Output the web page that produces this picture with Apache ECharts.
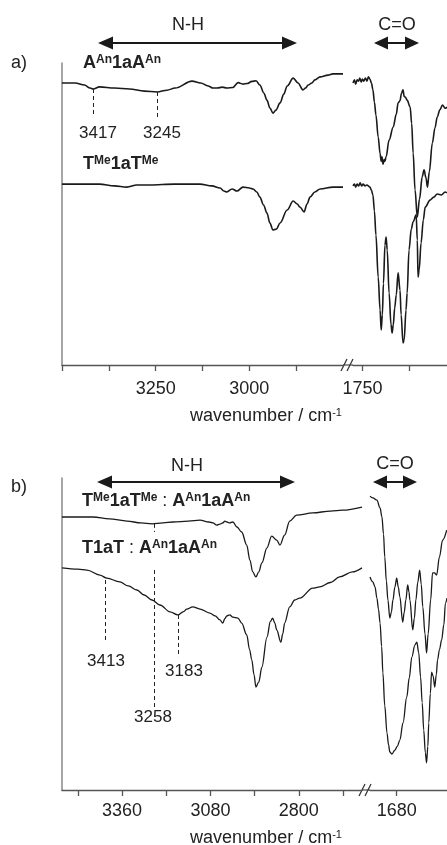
<!DOCTYPE html>
<html>
<head>
<meta charset="utf-8">
<style>
html, body { margin: 0; padding: 0; background: #fff; }
#ir { width: 447px; height: 845px; }
</style>
<script src="https://cdn.jsdelivr.net/npm/echarts@6/dist/echarts.min.js"></script>
</head>
<body>
<div id="ir"></div>
<script>
// IR spectra, N-H and C=O regions, broken wavenumber axis
// points are [wavenumber / cm-1, transmittance %]

// ---- panel a ----
const aAnNH = [[3500,93.4],[3465,93.4],[3440,92.7],[3425,91.7],[3417,91.4],[3400,92.1],[3360,91.7],[3320,91.4],[3280,90.7],[3246,90.4],[3220,91.0],[3198,91.7],[3153,94.0],[3130,93.4],[3110,92.4],[3097,91.7],[3086,91.7],[3072,92.0],[3060,91.7],[3044,91.9],[3030,93.5],[3017,93.0],[3006,93.2],[2993,93.9],[2982,94.1],[2972,92.7],[2961,90.0],[2953,87.7],[2945,85.1],[2937,83.4],[2929,84.4],[2918,86.8],[2908,89.7],[2899,92.4],[2883,95.0],[2870,93.4],[2857,91.1],[2850,91.7],[2843,92.7],[2833,93.4],[2825,94.4],[2811,95.4],[2790,96.0],[2777,96.4],[2750,96.4]];
const aAnCO = [[1775,93.4],[1771,94.4],[1768,93.0],[1764,94.4],[1760,94.0],[1757,95.0],[1753,93.7],[1750,94.7],[1746,94.0],[1742,95.0],[1738,94.0],[1734,95.4],[1730,94.7],[1726,93.4],[1722,91.1],[1718,87.0],[1714,82.8],[1708,75.5],[1703,70.0],[1700,67.5],[1698,68.9],[1695,66.5],[1692,68.0],[1690,67.5],[1687,68.9],[1679,74.5],[1668,78.8],[1660,83.0],[1655,86.8],[1650,87.5],[1646,90.0],[1642,91.1],[1639,89.0],[1636,88.7],[1631,87.7],[1623,85.4],[1619,80.0],[1615,70.2],[1610,58.0],[1604,49.0],[1598,55.0],[1591,62.3],[1586,64.6],[1581,62.0],[1577,58.9],[1572,64.0],[1564,73.5],[1557,78.5],[1551,82.1],[1544,84.5],[1537,86.1],[1530,85.0],[1525,85.4]];
const tMeNH = [[3500,59.9],[3450,59.9],[3400,59.9],[3360,59.3],[3327,58.9],[3300,59.6],[3265,59.6],[3200,59.9],[3132,59.9],[3100,59.3],[3078,58.6],[3068,57.6],[3060,57.3],[3046,58.3],[3033,57.6],[3017,58.9],[3000,58.6],[2990,58.3],[2980,57.3],[2972,55.6],[2962,53.0],[2953,50.3],[2945,47.0],[2937,44.7],[2928,45.0],[2918,47.0],[2899,51.3],[2883,54.3],[2872,53.3],[2865,52.3],[2854,50.7],[2846,53.3],[2838,55.6],[2825,57.3],[2811,58.3],[2777,58.9],[2750,58.9]];
const tMeCO = [[1775,59.3],[1771,59.9],[1768,58.9],[1764,59.9],[1760,59.3],[1756,60.3],[1752,59.3],[1748,59.9],[1743,59.3],[1738,59.6],[1730,58.9],[1726,57.9],[1722,56.3],[1718,51.0],[1714,43.0],[1708,29.1],[1703,18.2],[1700,11.6],[1697,16.6],[1694,27.0],[1690,39.7],[1687,42.4],[1684,38.1],[1679,23.8],[1674,13.5],[1671,10.6],[1668,13.2],[1664,19.0],[1660,23.2],[1655,30.5],[1650,24.8],[1647,16.6],[1642,7.3],[1639,8.3],[1634,18.2],[1631,23.8],[1626,38.1],[1620,45.0],[1615,47.4],[1607,49.7],[1604,41.4],[1602,29.1],[1599,31.5],[1594,40.4],[1588,48.0],[1583,52.3],[1570,54.6],[1560,55.6],[1551,56.6],[1540,56.3],[1530,57.3],[1525,57.0]];

// ---- panel b ----
const mixMeNH = [[3550,87.5],[3500,87.5],[3452,87.5],[3400,86.9],[3344,86.2],[3300,85.6],[3265,85.3],[3230,85.6],[3199,85.9],[3150,86.2],[3113,86.5],[3085,85.9],[3072,85.6],[3060,84.9],[3050,85.2],[3041,85.6],[3034,86.2],[3028,85.9],[3019,85.6],[3009,85.9],[2996,84.3],[2981,82.7],[2965,78.5],[2955,73.7],[2946,69.9],[2936,68.3],[2927,69.9],[2917,72.8],[2901,77.6],[2886,81.4],[2870,80.1],[2860,78.5],[2845,81.7],[2829,86.2],[2807,88.1],[2756,88.8],[2700,89.4],[2661,89.7],[2600,90.7]];
const mixMeCO = [[1765,94.2],[1756,93.6],[1743,92.9],[1733,90.4],[1727,87.5],[1722,82.0],[1718,74.7],[1713,67.0],[1708,60.9],[1702,55.1],[1697,57.0],[1692,60.9],[1686,65.0],[1680,67.9],[1675,65.0],[1670,61.9],[1661,53.8],[1656,57.0],[1651,60.9],[1645,65.7],[1641,63.5],[1638,60.9],[1629,51.3],[1624,55.0],[1619,60.9],[1613,66.5],[1607,70.5],[1602,66.0],[1597,58.7],[1590,50.0],[1585,43.9],[1580,50.0],[1572,60.9],[1566,69.6],[1560,69.6],[1553,68.9],[1544,74.7],[1534,80.1],[1521,83.3]];
const mixTNH = [[3550,71.2],[3500,70.8],[3471,70.5],[3430,68.9],[3408,67.9],[3367,66.7],[3340,65.4],[3313,64.1],[3290,62.5],[3265,60.9],[3240,59.3],[3208,57.1],[3183,56.1],[3165,57.2],[3155,58.0],[3136,58.7],[3113,58.0],[3082,56.7],[3065,55.8],[3050,54.5],[3041,53.5],[3034,55.0],[3028,55.8],[3019,56.1],[3009,55.4],[2993,55.1],[2981,53.5],[2965,49.7],[2956,45.0],[2949,41.7],[2942,37.0],[2936,33.0],[2927,34.6],[2917,39.4],[2901,49.0],[2890,54.0],[2883,55.1],[2876,53.5],[2870,51.3],[2857,47.4],[2851,50.0],[2845,53.5],[2829,58.7],[2813,60.9],[2797,61.5],[2756,64.7],[2734,65.1],[2700,66.5],[2671,68.3],[2630,69.9],[2600,71.2]];
const mixTCO = [[1765,68.3],[1756,66.7],[1749,65.1],[1743,61.5],[1738,58.0],[1733,53.5],[1728,46.0],[1724,37.5],[1718,27.0],[1711,18.3],[1706,14.5],[1702,12.2],[1695,11.5],[1686,12.8],[1678,14.0],[1670,16.0],[1660,21.5],[1648,29.8],[1640,36.0],[1632,42.6],[1622,46.5],[1616,47.4],[1610,44.0],[1604,36.2],[1599,28.0],[1594,19.2],[1589,12.0],[1585,8.7],[1581,14.0],[1578,21.5],[1573,31.0],[1569,37.8],[1564,36.5],[1559,33.0],[1554,37.0],[1550,41.7],[1544,45.0],[1537,48.1],[1530,53.0],[1525,59.9],[1520,61.5]];

// axis ticks / labels
const ticksA_NH = [3500, 3375, 3250, 3125, 3000, 2875];
const labelsA_NH = [3250, 3000];
const ticksA_CO = [1750, 1625];
const labelsA_CO = [1750];
const ticksB_NH = [3500, 3360, 3220, 3080, 2940, 2800, 2660];
const labelsB_NH = [3360, 3080, 2800];
const ticksB_CO = [1680];
const labelsB_CO = [1680];

// dashed peak markers: [wavenumber, T start, T end]
const markA = [[3417, 91.4, 82.1], [3245, 90.4, 82.1]];
const markB = [[3413, 67.3, 47.1], [3258, 85.3, 82.7], [3258, 70.5, 26.6], [3183, 56.1, 42.6]];

const FONT = '"Liberation Sans", Arial, Helvetica, sans-serif';
const INK = '#1a1a1a';

var chart = echarts.init(document.getElementById('ir'), null, { renderer: 'canvas' });

function xAx(grid, min, max, ticks, labels, margin) {
    return {
        type: 'value', gridIndex: grid, min: min, max: max, inverse: true,
        axisLine: { show: true, onZero: false, lineStyle: { color: '#555', width: 1.3 } },
        axisTick: { show: true, customValues: ticks, length: 6, lineStyle: { color: '#555', width: 1.3 } },
        axisLabel: {
            customValues: labels, margin: margin, fontSize: 18, color: '#222', fontFamily: FONT,
            formatter: function (v) { return String(v); }
        },
        splitLine: { show: false }
    };
}

function yAx(grid, showLine) {
    return {
        type: 'value', gridIndex: grid, min: 0, max: 100,
        axisLine: { show: showLine, onZero: false, lineStyle: { color: '#888', width: 1.5 } },
        axisTick: { show: false }, axisLabel: { show: false }, splitLine: { show: false }
    };
}

function trace(name, data, idx, w, marks) {
    const s = {
        name: name, type: 'line', xAxisIndex: idx, yAxisIndex: idx, data: data,
        showSymbol: false, symbol: 'none', smooth: 0.35, smoothMonotone: 'x',
        lineStyle: { color: INK, width: w }, silent: true
    };
    if (marks) {
        s.markLine = {
            silent: true, symbol: ['none', 'none'], label: { show: false },
            lineStyle: { type: [4, 3], color: '#222', width: 1 },
            data: marks.map(m => [{ coord: [m[0], m[1]] }, { coord: [m[0], m[2]] }])
        };
    }
    return s;
}

// text helpers
function txt(x, y, text, size, align) {
    return {
        type: 'text', x: x, y: y,
        style: {
            text: text, fill: '#222', fontSize: size, fontFamily: FONT,
            align: align || 'center', verticalAlign: 'middle',
            textAlign: align || 'center', textVerticalAlign: 'middle'
        }
    };
}
const supRich = {
    b: { fontSize: 18, fontWeight: 'bold', fontFamily: FONT, fill: '#222', lineHeight: 18, verticalAlign: 'bottom' },
    r: { fontSize: 18, fontFamily: FONT, fill: '#222', lineHeight: 18, verticalAlign: 'bottom' },
    s: { fontSize: 12, fontWeight: 'bold', fontFamily: FONT, fill: '#222', lineHeight: 12, verticalAlign: 'top' },
    n: { fontSize: 18, fontFamily: FONT, fill: '#222', lineHeight: 18, verticalAlign: 'bottom' },
    u: { fontSize: 11, fontFamily: FONT, fill: '#222', lineHeight: 11, verticalAlign: 'top' }
};
function rich(x, y, text, align) {
    return {
        type: 'text', x: x, y: y,
        style: {
            text: text, rich: supRich, align: align || 'left', verticalAlign: 'middle',
            textAlign: align || 'left', textVerticalAlign: 'middle'
        }
    };
}
function arrow(x1, x2, y, head) {
    return [
        { type: 'line', shape: { x1: x1 + head - 2, y1: y, x2: x2 - head + 2, y2: y }, style: { stroke: INK, lineWidth: 2 } },
        { type: 'polygon', shape: { points: [[x1, y], [x1 + head, y - 6.5], [x1 + head, y + 6.5]] }, style: { fill: INK } },
        { type: 'polygon', shape: { points: [[x2, y], [x2 - head, y - 6.5], [x2 - head, y + 6.5]] }, style: { fill: INK } }
    ];
}
function axisBreak(xa, xb, y) {
    const m = (xa + xb) / 2;
    return [
        { type: 'line', shape: { x1: xa, y1: y, x2: xb, y2: y }, style: { stroke: '#555', lineWidth: 1.3 } },
        { type: 'line', shape: { x1: m - 7, y1: y + 6, x2: m - 1, y2: y - 6 }, style: { stroke: '#333', lineWidth: 1.2 } },
        { type: 'line', shape: { x1: m - 1, y1: y + 6, x2: m + 5, y2: y - 6 }, style: { stroke: '#333', lineWidth: 1.2 } }
    ];
}

const graphics = [].concat(
    // panel a
    [txt(19, 63, 'a)', 18), txt(188, 25, 'N-H', 18), txt(397, 25, 'C=O', 18)],
    arrow(98, 297, 43, 15), arrow(374, 419, 43, 14),
    [rich(83, 63, '{b|A}{s|An}{b|1aA}{s|An}'), rich(83, 164, '{b|T}{s|Me}{b|1aT}{s|Me}')],
    [txt(98, 133, '3417', 17), txt(162, 133, '3245', 17)],
    axisBreak(343, 353, 365),
    [rich(266, 416, '{n|wavenumber / cm}{u|-1}', 'center')],
    // panel b
    [txt(19, 487, 'b)', 18), txt(187, 466, 'N-H', 18), txt(395, 464, 'C=O', 18)],
    arrow(97, 295, 482, 15), arrow(373, 417, 482, 14),
    [rich(82, 501, '{b|T}{s|Me}{b|1aT}{s|Me}{r| : }{b|A}{s|An}{b|1aA}{s|An}'),
     rich(82, 548, '{b|T1aT}{r| : }{b|A}{s|An}{b|1aA}{s|An}')],
    [txt(106, 661, '3413', 17), txt(153, 717, '3258', 17), txt(184, 671, '3183', 17)],
    axisBreak(362, 370, 790),
    [rich(266, 838, '{n|wavenumber / cm}{u|-1}', 'center')]
);

const option = {
    animation: false,
    grid: [
        { left: 62, top: 63, width: 281, height: 302 },
        { left: 353, top: 63, width: 94, height: 302 },
        { left: 62, top: 478, width: 300, height: 312 },
        { left: 370, top: 478, width: 77, height: 312 }
    ],
    xAxis: [
        xAx(0, 2750, 3500, ticksA_NH, labelsA_NH, 15),
        xAx(1, 1525, 1775, ticksA_CO, labelsA_CO, 15),
        xAx(2, 2600, 3550, ticksB_NH, labelsB_NH, 12),
        xAx(3, 1520, 1765, ticksB_CO, labelsB_CO, 12)
    ],
    yAxis: [yAx(0, true), yAx(1, false), yAx(2, true), yAx(3, false)],
    series: [
        trace('AAn1aAAn N-H', aAnNH, 0, 1.6, markA),
        trace('TMe1aTMe N-H', tMeNH, 0, 1.6),
        trace('AAn1aAAn C=O', aAnCO, 1, 1.6),
        trace('TMe1aTMe C=O', tMeCO, 1, 1.6),
        trace('TMe1aTMe:AAn1aAAn N-H', mixMeNH, 2, 1.3, markB),
        trace('T1aT:AAn1aAAn N-H', mixTNH, 2, 1.3),
        trace('TMe1aTMe:AAn1aAAn C=O', mixMeCO, 3, 1.3),
        trace('T1aT:AAn1aAAn C=O', mixTCO, 3, 1.3)
    ],
    graphic: graphics
};

chart.setOption(option);
</script>
</body>
</html>
